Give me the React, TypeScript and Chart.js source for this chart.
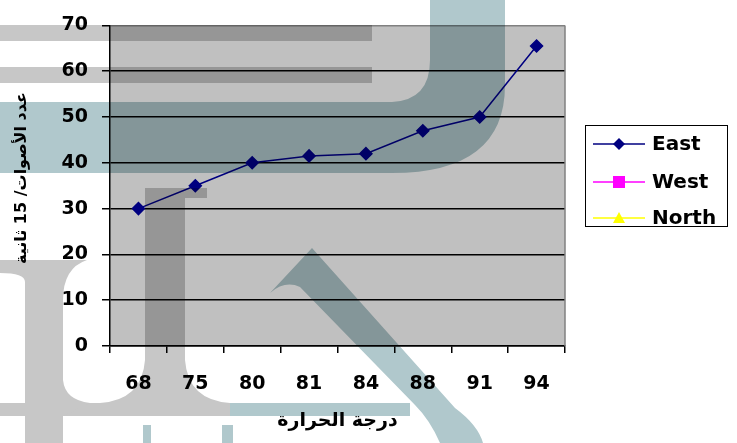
import React, { useEffect, useRef } from "react";
import { Chart, registerables } from "chart.js";

Chart.register(...registerables);

const categories = ["68", "75", "80", "81", "84", "88", "91", "94"];
const eastValues = [30, 35, 40, 41.5, 42, 47, 50, 65.5];
const westValues: (number | null)[] = [null, null, null, null, null, null, null, null];
const northValues: (number | null)[] = [null, null, null, null, null, null, null, null];
const seriesNames = ["East", "West", "North"];
const seriesColors = ["#000080", "#FF00FF", "#FFFF00"];
const yMin = 0;
const yMax = 70;
const yStep = 10;
const yTitle = "عدد الأصوات/ 15 ثانية";
const xTitle = "درجة الحرارة";

const FONT = '"DejaVu Sans", "Noto Sans", sans-serif';

const bgPlugin = {
  id: "plotBg",
  beforeDraw(chart: any) {
    const { ctx, chartArea: a } = chart;
    ctx.save();
    ctx.fillStyle = "#C0C0C0";
    ctx.fillRect(a.left, a.top, a.right - a.left, a.bottom - a.top);
    ctx.restore();
  },
  afterDraw(chart: any) {
    const { ctx, chartArea: a } = chart;
    ctx.save();
    // right border of the plot
    ctx.strokeStyle = "#808080";
    ctx.lineWidth = 1.5;
    ctx.beginPath();
    ctx.moveTo(a.right, a.top);
    ctx.lineTo(a.right, a.bottom);
    ctx.stroke();

    // axis titles
    ctx.fillStyle = "#000";
    ctx.textAlign = "center";
    ctx.textBaseline = "middle";
    (ctx as any).direction = "rtl";
    ctx.font = `bold 19px ${FONT}`;
    ctx.fillText(xTitle, (a.left + a.right) / 2, 421);
    ctx.save();
    ctx.font = `bold 16px ${FONT}`;
    ctx.translate(22, 178);
    ctx.rotate(-Math.PI / 2);
    ctx.fillText(yTitle, 0, 0);
    ctx.restore();
    (ctx as any).direction = "ltr";

    // legend
    const bx = 585.5, by = 125.5, bw = 142, bh = 101;
    ctx.fillStyle = "#FFFFFF";
    ctx.fillRect(bx, by, bw, bh);
    ctx.strokeStyle = "#000";
    ctx.lineWidth = 1;
    ctx.strokeRect(bx, by, bw, bh);
    const rows = [144, 182, 218];
    seriesNames.forEach((name, i) => {
      const y = rows[i];
      const col = seriesColors[i];
      ctx.strokeStyle = col;
      ctx.lineWidth = 1.5;
      ctx.beginPath();
      ctx.moveTo(593, y);
      ctx.lineTo(645, y);
      ctx.stroke();
      ctx.fillStyle = col;
      const mx = 619;
      ctx.beginPath();
      if (i === 0) {
        ctx.moveTo(mx, y - 6);
        ctx.lineTo(mx + 6, y);
        ctx.lineTo(mx, y + 6);
        ctx.lineTo(mx - 6, y);
        ctx.closePath();
        ctx.fill();
      } else if (i === 1) {
        ctx.fillRect(mx - 6, y - 6, 12, 12);
      } else {
        ctx.moveTo(mx, y - 6);
        ctx.lineTo(mx + 6, y + 5);
        ctx.lineTo(mx - 6, y + 5);
        ctx.closePath();
        ctx.fill();
      }
      ctx.fillStyle = "#000";
      ctx.font = `bold 20px ${FONT}`;
      ctx.textAlign = "left";
      ctx.textBaseline = "middle";
      ctx.fillText(name, 652, y + 1);
    });
    ctx.restore();
  },
};

function Watermark() {
  const gray = "rgb(199,199,199)";
  const teal = "rgb(176,200,204)";
  return (
    <svg
      width={737}
      height={443}
      style={{ position: "absolute", left: 0, top: 0, pointerEvents: "none", mixBlendMode: "multiply" }}
    >
      <g fill={gray}>
        <rect x={0} y={25} width={372} height={16} />
        <rect x={0} y={67} width={372} height={16} />
        <rect x={145} y={188} width={62} height={10} />
        <path d="M145,188 L185,188 L185,360 Q188,400 230,403 L230,416 L0,416 L0,403 L100,403 Q142,400 145,360 Z" />
        <path d="M0,260 L87,260 Q63,268 63,300 L63,380 Q65,400 90,403 L63,416 L63,443 L25,443 L25,282 Q25,273 0,273 Z" />
      </g>
      <g fill={teal}>
        <path d="M0,102 L392,102 Q430,100 430,60 L430,0 L505,0 L505,85 Q505,173 392,173 L0,173 Z" />
        <path d="M312,248 L455,408 Q478,425 483,443 L440,443 Q430,420 415,405 L300,287 Q285,280 270,293 Z" />
        <rect x={230} y={403} width={180} height={13} />
        <rect x={143} y={425} width={8} height={18} />
        <rect x={222} y={425} width={11} height={18} />
      </g>
    </svg>
  );
}

export default function App() {
  const ref = useRef<HTMLCanvasElement | null>(null);
  useEffect(() => {
    if (!ref.current) return;
    const chart = new Chart(ref.current, {
      type: "line",
      data: {
        labels: categories,
        datasets: [
          {
            label: seriesNames[0],
            data: eastValues,
            borderColor: seriesColors[0],
            backgroundColor: seriesColors[0],
            borderWidth: 1.5,
            pointStyle: "rectRot",
            pointRadius: 6,
            pointBackgroundColor: seriesColors[0],
            pointBorderColor: seriesColors[0],
            tension: 0,
          },
          {
            label: seriesNames[1],
            data: westValues,
            borderColor: seriesColors[1],
            backgroundColor: seriesColors[1],
            pointStyle: "rect",
          },
          {
            label: seriesNames[2],
            data: northValues,
            borderColor: seriesColors[2],
            backgroundColor: seriesColors[2],
            pointStyle: "triangle",
          },
        ],
      },
      options: {
        responsive: false,
        animation: false,
        layout: { padding: { left: 0, top: 16, right: 172, bottom: 0 } },
        plugins: { legend: { display: false }, tooltip: { enabled: false } },
        scales: {
          x: {
            offset: true,
            grid: {
              offset: true,
              drawOnChartArea: false,
              drawTicks: true,
              tickLength: 7,
              color: "#000",
              lineWidth: 1.5,
            },
            border: { color: "#000", width: 1.5 },
            ticks: {
              color: "#000",
              font: { family: FONT, size: 19, weight: "bold" },
              padding: 20,
              maxRotation: 0,
            },
            afterFit: (s: any) => {
              s.height = 97;
            },
          },
          y: {
            min: yMin,
            max: yMax,
            grid: {
              color: (c: any) => (c.tick && c.tick.value === yMax ? "#808080" : "#000"),
              tickColor: "#000",
              lineWidth: 1.5,
              tickLength: 8,
            },
            border: { color: "#000", width: 1.5 },
            ticks: {
              stepSize: yStep,
              color: "#000",
              font: { family: FONT, size: 19, weight: "bold" },
              padding: 14,
            },
            afterFit: (s: any) => {
              s.width = 110;
            },
          },
        },
      },
      plugins: [bgPlugin],
    } as any);
    return () => chart.destroy();
  }, []);
  return (
    <div style={{ position: "fixed", left: 0, top: 0, width: 737, height: 443, background: "#fff" }}>
      <canvas ref={ref} width={737} height={443} style={{ width: 737, height: 443, display: "block" }} />
      <Watermark />
    </div>
  );
}
